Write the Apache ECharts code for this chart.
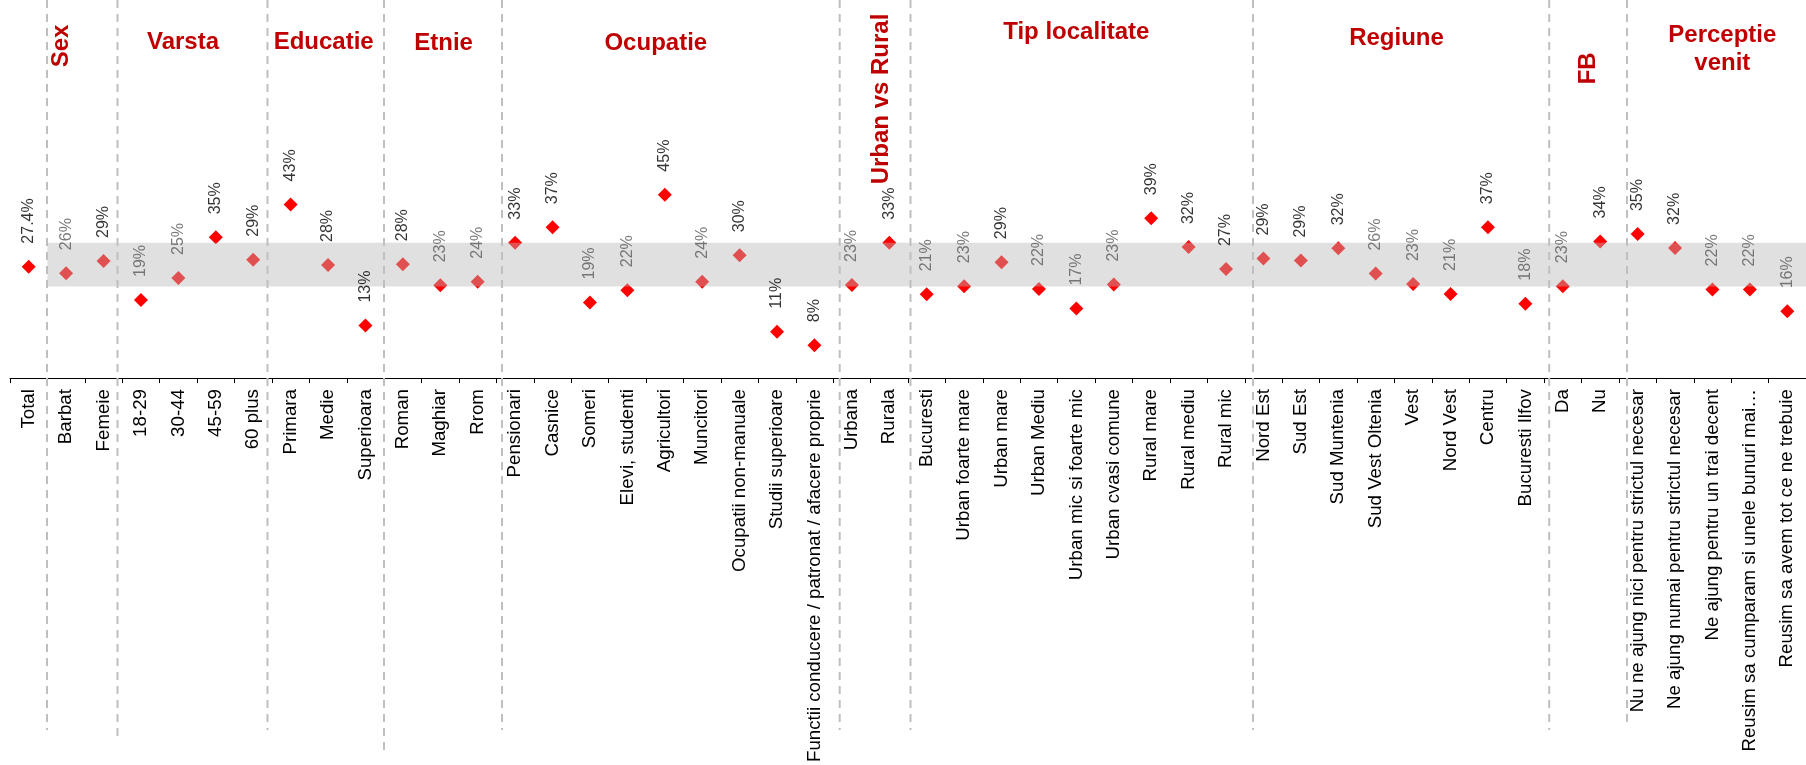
<!DOCTYPE html>
<html>
<head>
<meta charset="utf-8">
<script src="https://cdn.jsdelivr.net/npm/echarts@6/dist/echarts.min.js"></script>
<style>
html,body{margin:0;padding:0;background:#fff;}
#chart{width:1806px;height:765px;}
</style>
</head>
<body>
<div id="chart"></div>
<script>
// ---- data ----
const categories = [
  'Total',
  'Barbat','Femeie',
  '18-29','30-44','45-59','60 plus',
  'Primara','Medie','Superioara',
  'Roman','Maghiar','Rrom',
  'Pensionari','Casnice','Someri','Elevi, studenti','Agricultori','Muncitori','Ocupatii non-manuale','Studii superioare','Functii conducere / patronat / afacere proprie',
  'Urbana','Rurala',
  'Bucuresti','Urban foarte mare','Urban mare','Urban Mediu','Urban mic si foarte mic','Urban cvasi comune','Rural mare','Rural mediu','Rural mic',
  'Nord Est','Sud Est','Sud Muntenia','Sud Vest Oltenia','Vest','Nord Vest','Centru','Bucuresti Ilfov',
  'Da','Nu',
  'Nu ne ajung nici pentru strictul necesar','Ne ajung numai pentru strictul necesar','Ne ajung pentru un trai decent','Reusim sa cumparam si unele bunuri mai\u2026','Reusim sa avem tot ce ne trebuie'
];
const values = [
  27.4,
  25.8, 28.8,
  19.2, 24.6, 34.6, 29.1,
  42.7, 27.8, 12.9,
  28.0, 22.8, 23.7,
  33.3, 37.1, 18.6, 21.6, 45.1, 23.7, 30.2, 11.4, 8.1,
  22.9, 33.3,
  20.6, 22.6, 28.5, 21.9, 17.1, 23.0, 39.3, 32.2, 26.8,
  29.4, 28.9, 31.9, 25.7, 23.1, 20.7, 37.1, 18.3,
  22.6, 33.6,
  35.4, 32.0, 21.8, 21.8, 16.4
];
// 1 = label shown in black (emphasised), 0 = label shown in grey
const emphasised = [
  1,
  0, 1,
  0, 0, 1, 1,
  1, 1, 1,
  1, 0, 0,
  1, 1, 0, 0, 1, 0, 1, 1, 1,
  0, 1,
  0, 0, 1, 0, 0, 0, 1, 1, 1,
  1, 1, 1, 0, 0, 0, 1, 0,
  0, 1,
  1, 1, 0, 0, 0
];
const groupTitles = ['Sex','Varsta','Educatie','Etnie','Ocupatie','Urban vs Rural','Tip localitate','Regiune','FB','Perceptie\nvenit'];
const bandLow = 22.5;
const bandHigh = 33.3;

// ---- chart ----
const FONT = '"Liberation Sans", Arial, sans-serif';
const chart = echarts.init(document.getElementById('chart'));

const pointData = values.map((v, i) => ({
  value: v,
  label: { color: emphasised[i] ? '#000000' : '#5a5a5a' }
}));

function fmt(p) {
  return p.dataIndex === 0 ? p.value.toFixed(1) + '%' : Math.round(p.value) + '%';
}

// header layout (text boxes)
const headerLayout = [
  { x: 61, y: 46, rot: true },
  { x: 183, y: 42 },
  { x: 323.7, y: 42 },
  { x: 443.6, y: 43.5 },
  { x: 655.8, y: 43.5 },
  { x: 881, y: 99, rot: true },
  { x: 1076.3, y: 32.5 },
  { x: 1396.5, y: 38 },
  { x: 1588, y: 68.3, rot: true },
  { x: 1722.3, y: 49.5 }
];
const separatorLayout = [
  [47, 730], [117.5, 740], [267.5, 730], [384, 755], [502, 730],
  [839.7, 730], [910.5, 730], [1253, 730], [1549.2, 730], [1627, 723]
];

const graphics = [];
separatorLayout.forEach(s => {
  graphics.push({
    type: 'line', z: 10, silent: true,
    shape: { x1: s[0], y1: 0, x2: s[0], y2: s[1] },
    style: { stroke: '#BFBFBF', lineWidth: 2, lineDash: [8, 6] }
  });
});
groupTitles.forEach((t, i) => {
  const L = headerLayout[i];
  graphics.push({
    type: 'text', z: 11, silent: true,
    x: L.x, y: L.y,
    rotation: L.rot ? Math.PI / 2 : 0,
    style: {
      text: t, x: 0, y: 0,
      align: 'center', verticalAlign: 'middle',
      font: 'bold 24px ' + FONT,
      lineHeight: 28,
      fill: '#C00000'
    }
  });
});

const option = {
  animation: false,
  backgroundColor: '#ffffff',
  grid: { left: 10, top: 12, width: 1804, bottom: 384.5, containLabel: false },
  xAxis: [
    {
      type: 'category',
      data: categories,
      boundaryGap: true,
      axisLine: { show: true, lineStyle: { color: '#000000', width: 1 } },
      axisTick: { show: true, interval: 0, length: 5, lineStyle: { color: '#000000' } },
      axisLabel: {
        interval: 0, rotate: 90, margin: 11,
        fontFamily: FONT, fontSize: 18.7, color: '#000000'
      },
      splitLine: { show: false }
    },
    {
      type: 'value', min: 0, max: 48, show: false, gridIndex: 0
    }
  ],
  yAxis: {
    type: 'value', min: 0, max: 90, show: false,
    splitLine: { show: false }
  },
  series: [
    {
      type: 'scatter',
      xAxisIndex: 0,
      data: values,
      symbol: 'diamond',
      symbolSize: 14,
      itemStyle: { color: '#FF0000', opacity: 1 },
      z: 2,
      silent: true
    },
    {
      type: 'custom',
      xAxisIndex: 1,
      z: 3,
      silent: true,
      data: [[1, 48, bandLow, bandHigh]],
      encode: { x: [0, 1], y: [2, 3] },
      renderItem: function (params, api) {
        const p1 = api.coord([api.value(0), api.value(3)]);
        const p2 = api.coord([api.value(1), api.value(2)]);
        return {
          type: 'rect',
          shape: { x: p1[0], y: p1[1], width: p2[0] - p1[0], height: p2[1] - p1[1] },
          style: { fill: 'rgba(184,184,184,0.435)' }
        };
      }
    },
    {
      type: 'scatter',
      xAxisIndex: 0,
      data: pointData,
      symbol: 'diamond',
      symbolSize: 14,
      itemStyle: { color: 'rgba(0,0,0,0)' },
      z: 4,
      silent: true,
      label: {
        show: true,
        position: 'top',
        distance: 16,
        rotate: 90,
        align: 'left',
        verticalAlign: 'middle',
        fontFamily: FONT,
        fontSize: 16,
        formatter: fmt
      }
    }
  ],
  graphic: graphics
};
chart.setOption(option);
</script>
</body>
</html>
